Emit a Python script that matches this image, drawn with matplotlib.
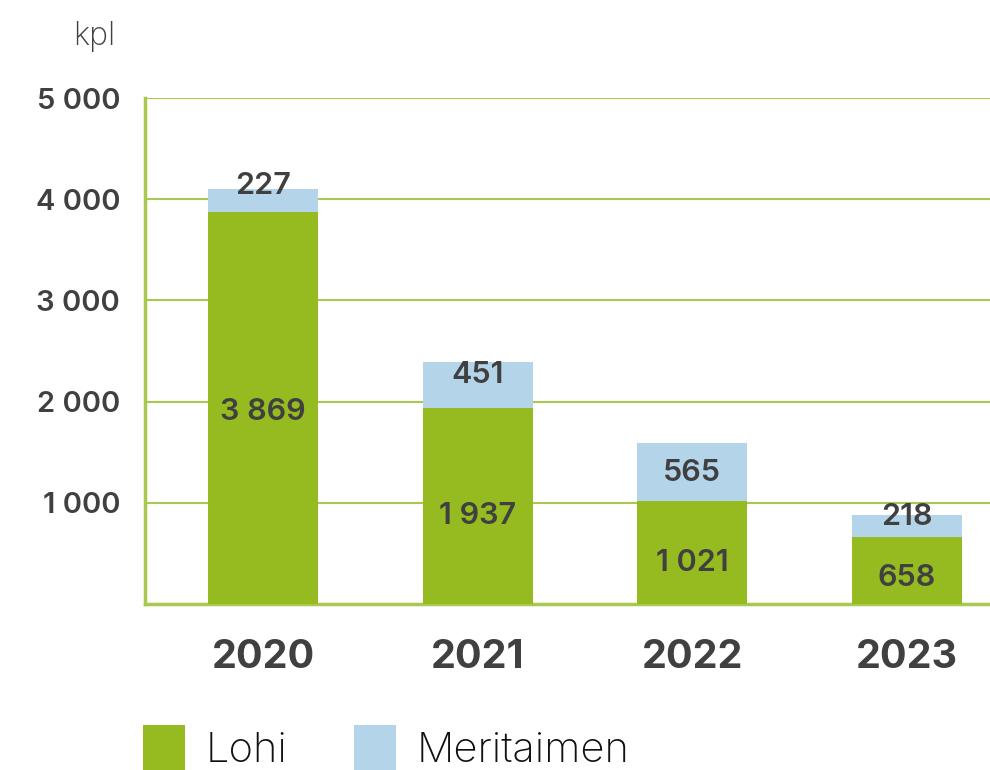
import matplotlib
matplotlib.use("Agg")
import matplotlib.pyplot as plt
from matplotlib.patches import Patch

years = ["2020", "2021", "2022", "2023"]
lohi = [3869, 1937, 1021, 658]
meritaimen = [227, 451, 565, 218]
lohi_labels = ["3 869", "1 937", "1 021", "658"]
meri_labels = ["227", "451", "565", "218"]
yticks = [1000, 2000, 3000, 4000, 5000]
ytick_labels = ["1 000", "2 000", "3 000", "4 000", "5 000"]

# label nudges (points), styling only
lohi_nudge = [-3, -7, -8, -5]
meri_nudge = [11, 7, -1, 7]

GREEN = "#95BB20"
BLUE = "#B4D5E9"
GRID = "#A8C94E"
TXT = "#404040"

plt.rcParams['font.family'] = ['Inter', 'DejaVu Sans']

fig = plt.figure(figsize=(9.9, 7.7), dpi=100)
ax = fig.add_axes([0.1465, 0.2156, 0.8535, 0.6571])

x = list(range(len(years)))
ax.bar(x, lohi, width=0.512, color=GREEN, zorder=3, label="Lohi")
ax.bar(x, meritaimen, bottom=lohi, width=0.512, color=BLUE, zorder=3, label="Meritaimen")

for i in x:
    ax.annotate(lohi_labels[i], (i, lohi[i] / 2), xytext=(0, lohi_nudge[i]), textcoords="offset points",
                ha="center", va="center", fontsize=22, fontweight="semibold", color=TXT, zorder=4)
    ax.annotate(meri_labels[i], (i, lohi[i] + meritaimen[i] / 2), xytext=(0, meri_nudge[i]),
                textcoords="offset points",
                ha="center", va="center", fontsize=22, fontweight="semibold", color=TXT, zorder=4)

ax.set_xlim(-0.55, 3.387)
ax.set_ylim(0, 5000)
ax.set_yticks(yticks)
ax.set_yticklabels(ytick_labels)
ax.set_xticks(x)
ax.set_xticklabels(years)
ax.tick_params(axis="y", length=0, pad=18, labelsize=21, labelcolor=TXT)
ax.tick_params(axis="x", length=0, pad=25, labelsize=28.5, labelcolor=TXT)
for lab in ax.get_yticklabels():
    lab.set_fontweight("semibold")
for lab in ax.get_xticklabels():
    lab.set_fontweight("bold")

ax.yaxis.grid(True, color=GRID, linewidth=1.5, zorder=0)
ax.set_axisbelow(True)
for s in ["top", "right"]:
    ax.spines[s].set_visible(False)
ax.spines["left"].set_color(GRID)
ax.spines["left"].set_linewidth(2.5)
ax.spines["bottom"].set_color(GRID)
ax.spines["bottom"].set_linewidth(2.5)

fig.text(115 / 990, 1 - 37 / 770, "kpl", ha="right", va="center", fontsize=23, color=TXT,
         fontweight="light")

handles = [Patch(facecolor=GREEN, edgecolor="none"), Patch(facecolor=BLUE, edgecolor="none")]
leg = fig.legend(handles, ["Lohi", "Meritaimen"], loc="upper left",
                 bbox_to_anchor=(143 / 990, 1 - 725 / 770), ncol=2, frameon=False,
                 fontsize=30, handlelength=1.0, handleheight=1.3, handletextpad=0.5,
                 columnspacing=1.6, borderpad=0, borderaxespad=0)
for t in leg.get_texts():
    t.set_fontweight("light")
    t.set_color("#111111")

fig.savefig("out.png", dpi=100)
